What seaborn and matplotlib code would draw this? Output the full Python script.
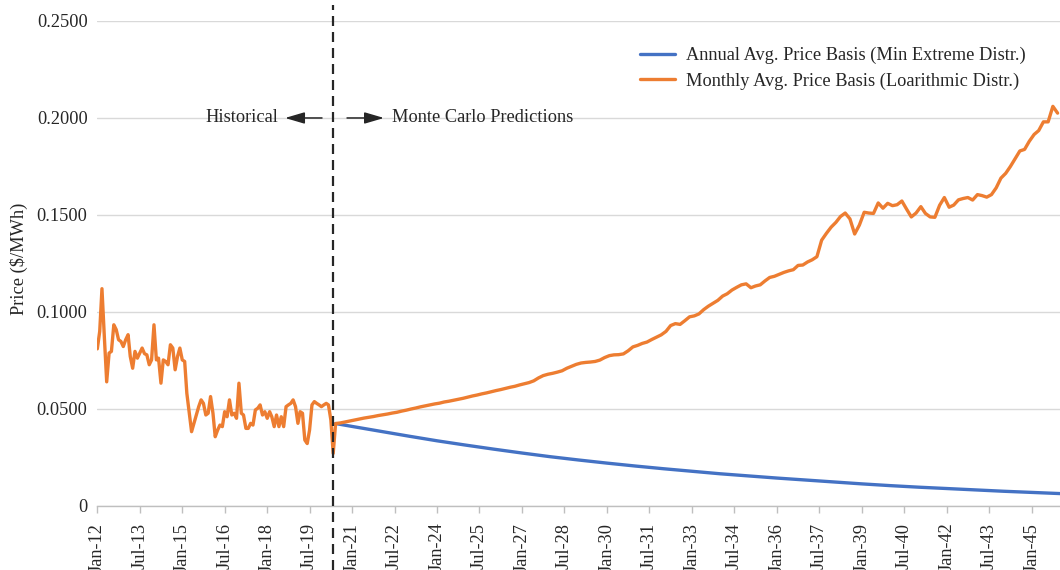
import matplotlib
matplotlib.use("Agg")
import matplotlib.pyplot as plt
import matplotlib.dates as mdates
import matplotlib.ticker as mticker
import seaborn as sns
import pandas as pd

# monthly historical prices, Jan 2012 onwards
HIST_START = "2012-01-01"
HIST_PRICES = [
    0.0810, 0.0900, 0.1120, 0.0870, 0.0640, 0.0788, 0.0797, 0.0934, 0.0909, 0.0857,
    0.0848, 0.0822, 0.0857, 0.0883, 0.0771, 0.0710, 0.0797, 0.0762, 0.0788, 0.0814,
    0.0785, 0.0779, 0.0728, 0.0753, 0.0934, 0.0753, 0.0762, 0.0633, 0.0753, 0.0745,
    0.0728, 0.0831, 0.0814, 0.0702, 0.0771, 0.0814, 0.0753, 0.0745, 0.0581, 0.0478,
    0.0383, 0.0426, 0.0469, 0.0512, 0.0547, 0.0529, 0.0469, 0.0478, 0.0564, 0.0478,
    0.0357, 0.0391, 0.0417, 0.0409, 0.0486, 0.0460, 0.0547, 0.0469, 0.0478, 0.0452,
    0.0633, 0.0478, 0.0469, 0.0400, 0.0400, 0.0426, 0.0417, 0.0495, 0.0504, 0.0521,
    0.0469, 0.0486, 0.0452, 0.0486, 0.0460, 0.0409, 0.0469, 0.0409, 0.0460, 0.0409,
    0.0512, 0.0521, 0.0529, 0.0547, 0.0512, 0.0426, 0.0486, 0.0478, 0.0340, 0.0322,
    0.0391, 0.0521, 0.0538, 0.0529, 0.0521, 0.0512, 0.0521, 0.0529, 0.0521, 0.0443,
    0.0271,
]

# Monte Carlo path (monthly basis), every second month from Jun 2020
PRED_START = "2020-06-01"
PRED_PRICES = [
    0.0425, 0.0428, 0.0433, 0.0438, 0.0443, 0.0448, 0.0453, 0.0457, 0.0461, 0.0466,
    0.0470, 0.0474, 0.0479, 0.0483, 0.0489, 0.0494, 0.0500, 0.0505, 0.0511, 0.0516,
    0.0521, 0.0526, 0.0530, 0.0536, 0.0540, 0.0545, 0.0550, 0.0555, 0.0561, 0.0567,
    0.0572, 0.0578, 0.0583, 0.0589, 0.0595, 0.0600, 0.0606, 0.0612, 0.0617, 0.0624,
    0.0630, 0.0636, 0.0645, 0.0660, 0.0672, 0.0679, 0.0684, 0.0690, 0.0697, 0.0710,
    0.0720, 0.0730, 0.0737, 0.0740, 0.0742, 0.0745, 0.0752, 0.0765, 0.0775, 0.0779,
    0.0780, 0.0784, 0.0800, 0.0820, 0.0828, 0.0838, 0.0845, 0.0858, 0.0870, 0.0882,
    0.0900, 0.0930, 0.0940, 0.0936, 0.0955, 0.0975, 0.0980, 0.0990, 0.1012, 0.1030,
    0.1045, 0.1060, 0.1082, 0.1094, 0.1113, 0.1127, 0.1140, 0.1145, 0.1125, 0.1134,
    0.1140, 0.1160, 0.1178, 0.1184, 0.1194, 0.1204, 0.1212, 0.1218, 0.1240, 0.1242,
    0.1258, 0.1269, 0.1285, 0.1370, 0.1405, 0.1437, 0.1462, 0.1492, 0.1510, 0.1480,
    0.1402, 0.1448, 0.1514, 0.1510, 0.1508, 0.1562, 0.1535, 0.1560, 0.1548, 0.1553,
    0.1572, 0.1530, 0.1490, 0.1510, 0.1543, 0.1508, 0.1490, 0.1488, 0.1550, 0.1590,
    0.1540, 0.1551, 0.1578, 0.1585, 0.1590, 0.1577, 0.1605, 0.1600, 0.1592, 0.1605,
    0.1640, 0.1690, 0.1715, 0.1750, 0.1790, 0.1830, 0.1838, 0.1880, 0.1915, 0.1935,
    0.1980, 0.1980, 0.2060, 0.2025,
]

# annual basis path
ANNUAL_DATES = ["2020-06-01"] + [f"{y}-01-01" for y in range(2021, 2047)]
ANNUAL_PRICES = [
    0.0425, 0.0410, 0.0385, 0.0360, 0.0336, 0.0314, 0.0293, 0.0273, 0.0254, 0.0237,
    0.0221, 0.0206, 0.0192, 0.0179, 0.0166, 0.0155, 0.0144, 0.0134, 0.0124, 0.0114,
    0.0105, 0.0097, 0.0090, 0.0083, 0.0076, 0.0070, 0.0064,
]

SPLIT_DATE = "2020-05-01"
Y_TICKS = [0, 0.05, 0.10, 0.15, 0.20, 0.25]

BLUE = "#4472C4"
ORANGE = "#ED7D31"
TEXT = "#262626"
FS = 13.2

sns.set_theme(style="white")
plt.rcParams["font.family"] = ["Liberation Serif", "DejaVu Serif"]

hist_dates = pd.date_range(HIST_START, periods=len(HIST_PRICES), freq="MS")
pred_dates = pd.date_range(PRED_START, periods=len(PRED_PRICES), freq="2MS")
monthly = pd.DataFrame({
    "date": list(hist_dates) + list(pred_dates),
    "price": HIST_PRICES + PRED_PRICES,
})
annual = pd.DataFrame({"date": pd.to_datetime(ANNUAL_DATES), "price": ANNUAL_PRICES})

fig = plt.figure(figsize=(10.6, 5.7), dpi=100)
ax = fig.add_axes([0.0918, 0.1123, 0.9082, 0.8509])

sns.lineplot(data=annual, x="date", y="price", color=BLUE, linewidth=2.4,
             label="Annual Avg. Price Basis (Min Extreme Distr.)", ax=ax, zorder=3)
sns.lineplot(data=monthly, x="date", y="price", color=ORANGE, linewidth=2.4,
             label="Monthly Avg. Price Basis (Loarithmic Distr.)", ax=ax, zorder=4)

ax.axvline(pd.Timestamp(SPLIT_DATE), ymin=-0.132, ymax=1.033, clip_on=False,
           color=TEXT, linewidth=1.6, dashes=(4.5, 2.7), zorder=5)

# axes
ax.set_xlim(pd.Timestamp("2012-01-01"), pd.Timestamp("2046-01-01"))
ax.set_ylim(0, 0.25)
ax.set_xticks(pd.date_range("2012-01-01", "2045-01-01", freq="18MS"))
ax.xaxis.set_major_formatter(mdates.DateFormatter("%b-%y"))
ax.set_yticks(Y_TICKS)
ax.yaxis.set_major_formatter(mticker.FuncFormatter(lambda v, _: "0" if v == 0 else f"{v:.4f}"))
ax.tick_params(axis="x", rotation=90, length=5, color="#bfbfbf", width=1,
               direction="out", bottom=True, pad=7, labelsize=FS, labelcolor=TEXT)
ax.tick_params(axis="y", length=0, pad=7, labelsize=FS, labelcolor=TEXT)
ax.set_xlabel("")
ax.set_ylabel("Price ($/MWh)", fontsize=FS, color=TEXT)
ax.yaxis.set_label_coords(-0.072, 0.51)

ax.yaxis.grid(True, color="#d9d9d9", linewidth=1)
ax.xaxis.grid(False)
for side in ["left", "right", "top"]:
    ax.spines[side].set_visible(False)
ax.spines["bottom"].set_color("#bfbfbf")
ax.spines["bottom"].set_linewidth(1)

# period annotations
arrow = dict(arrowstyle="-|>,head_length=0.85,head_width=0.25", color=TEXT, lw=1.1,
             mutation_scale=14, shrinkA=0, shrinkB=0)
ax.annotate("", xy=(0.195, 0.8), xytext=(0.2334, 0.8), xycoords="axes fraction", arrowprops=arrow)
ax.annotate("", xy=(0.2978, 0.8), xytext=(0.2594, 0.8), xycoords="axes fraction", arrowprops=arrow)
ax.text(0.1877, 0.8, "Historical", transform=ax.transAxes, ha="right", va="center",
        fontsize=FS, color=TEXT)
ax.text(0.3061, 0.8, "Monte Carlo Predictions", transform=ax.transAxes, ha="left",
        va="center", fontsize=FS, color=TEXT)

ax.legend(loc="upper left", bbox_to_anchor=(640 / 1060, 1 - 47 / 570),
          bbox_transform=fig.transFigure, frameon=False, fontsize=FS,
          handlelength=1.9, handletextpad=0.6, labelspacing=0.45,
          borderaxespad=0, borderpad=0, labelcolor=TEXT)

fig.savefig("out.png", dpi=100)
plt.close(fig)
